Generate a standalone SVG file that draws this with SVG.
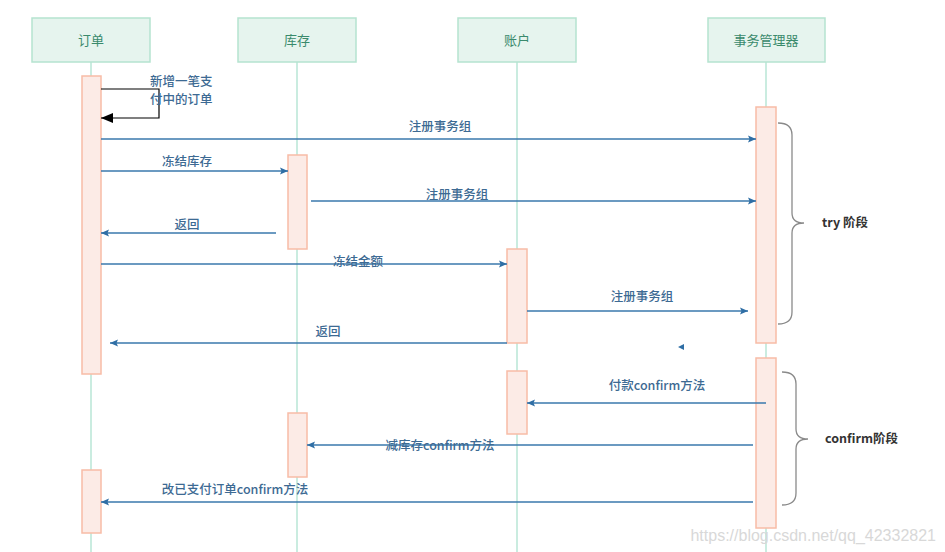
<svg xmlns="http://www.w3.org/2000/svg" width="945" height="552" viewBox="0 0 945 552">
<defs>
<marker id="ah" viewBox="0 0 8 8" refX="8" refY="4" markerWidth="8" markerHeight="8" markerUnits="userSpaceOnUse" orient="auto">
<path d="M0,0.5 L8,4 L0,7.5 L1.5,4 Z" fill="#2f6ea5"/>
</marker>
<marker id="ahb" viewBox="0 0 12 10" refX="12" refY="5" markerWidth="12" markerHeight="10" markerUnits="userSpaceOnUse" orient="auto">
<path d="M0,0 L12,5 L0,10 Z" fill="#000"/>
</marker>
<style>
.hdr{fill:#e6f4ee;stroke:#b5e3d0;stroke-width:1.5}
.htx{font-family:"Noto Sans CJK SC","Noto Sans",sans-serif;font-size:13px;fill:#3a8a6c;text-anchor:middle}
.life{stroke:#b8e6d6;stroke-width:1.5;fill:none}
.act{fill:#fcebe6;stroke:#f8bca6;stroke-width:1.5}
.msg{stroke:#3a78ad;stroke-width:1.3;fill:none;marker-end:url(#ah)}
.lbl{font-family:"Noto Sans CJK SC","Noto Sans",sans-serif;font-size:12.5px;font-weight:500;fill:#3d6a93;text-anchor:middle}
.brace{stroke:#8a8a8a;stroke-width:1.3;fill:none}
.btx{font-family:"Noto Sans CJK SC","Noto Sans",sans-serif;font-size:12.5px;font-weight:600;fill:#333}
</style>
</defs>
<rect width="945" height="552" fill="#fff"/>
<g id="lifelines">
<line class="life" x1="91" y1="62" x2="91" y2="552"/>
<line class="life" x1="297" y1="62" x2="297" y2="552"/>
<line class="life" x1="517" y1="62" x2="517" y2="552"/>
<line class="life" x1="766" y1="62" x2="766" y2="552"/>
</g>
<g id="node-order">
<rect class="hdr" x="32" y="18" width="118" height="44"/>
<text class="htx" x="91" y="45">订单</text>
<rect class="act" x="82" y="76" width="19" height="298"/>
<rect class="act" x="82" y="470" width="19" height="63"/>
</g>
<g id="node-stock">
<rect class="hdr" x="238" y="18" width="118" height="44"/>
<text class="htx" x="297" y="45">库存</text>
<rect class="act" x="288" y="155" width="19" height="94"/>
<rect class="act" x="288" y="413" width="19" height="64"/>
</g>
<g id="node-account">
<rect class="hdr" x="458" y="18" width="118" height="44"/>
<text class="htx" x="517" y="45">账户</text>
<rect class="act" x="507" y="249" width="20" height="94"/>
<rect class="act" x="507" y="371" width="20" height="63"/>
</g>
<g id="node-tm">
<rect class="hdr" x="708" y="18" width="117" height="44"/>
<text class="htx" x="766" y="45">事务管理器</text>
<rect class="act" x="756" y="107" width="20" height="236"/>
<rect class="act" x="756" y="358" width="20" height="170"/>
</g>
<g id="connectors">
<path d="M101,89 H159 V118 H101" stroke="#000" stroke-width="1.2" fill="none" marker-end="url(#ahb)"/>
<line class="msg" x1="101" y1="139" x2="756" y2="139"/>
<line class="msg" x1="101" y1="171" x2="288" y2="171"/>
<line class="msg" x1="311" y1="201" x2="756" y2="201"/>
<line class="msg" x1="276" y1="233" x2="101" y2="233"/>
<line class="msg" x1="101" y1="264" x2="507" y2="264"/>
<line class="msg" x1="527" y1="311" x2="748" y2="311"/>
<path d="M684,344 L678,347 L684,350 Z" fill="#2f6ea5"/>
<line class="msg" x1="507" y1="343" x2="110" y2="343"/>
<line class="msg" x1="766" y1="403" x2="527" y2="403"/>
<line class="msg" x1="753" y1="445" x2="307" y2="445"/>
<line class="msg" x1="753" y1="502" x2="101" y2="502"/>
</g>
<g id="labels">
<text class="lbl" x="150" y="86" style="text-anchor:start">新增一笔支</text>
<text class="lbl" x="150" y="104" style="text-anchor:start">付中的订单</text>
<text class="lbl" x="440" y="131">注册事务组</text>
<text class="lbl" x="187" y="166">冻结库存</text>
<text class="lbl" x="457" y="199">注册事务组</text>
<text class="lbl" x="187" y="229">返回</text>
<text class="lbl" x="358" y="266">冻结金额</text>
<text class="lbl" x="642" y="301">注册事务组</text>
<text class="lbl" x="328" y="336">返回</text>
<text class="lbl" x="657" y="390">付款confirm方法</text>
<text class="lbl" x="440" y="450">减库存confirm方法</text>
<text class="lbl" x="235" y="494">改已支付订单confirm方法</text>
</g>
<g id="try-phase">
<path class="brace" d="M778,123 Q792,123 792,135 V213 Q792,223 804,223 Q792,223 792,233 V312 Q792,324 778,324"/>
<text class="btx" x="822" y="227">try 阶段</text>
</g>
<g id="confirm-phase">
<path class="brace" d="M782,372 Q796,372 796,384 V429 Q796,439 808,439 Q796,439 796,449 V493 Q796,505 782,505"/>
<text class="btx" x="825" y="443">confirm阶段</text>
</g>
<text x="936" y="541" font-family="Liberation Sans, Arial, sans-serif" font-size="16" fill="#d8d8d8" text-anchor="end">https://blog.csdn.net/qq_42332821</text>
</svg>
